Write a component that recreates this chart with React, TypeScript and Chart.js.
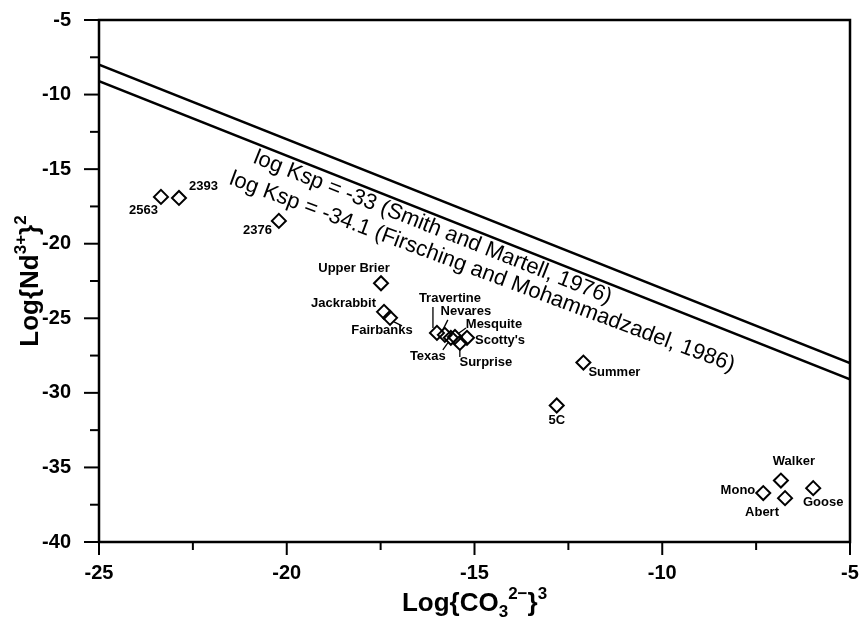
import React, { useEffect, useRef } from "react";
import { Chart, registerables } from "chart.js";

Chart.register(...registerables);

// ---- data ----
const springNames = [
  "2563", "2393", "2376", "Upper Brier", "Jackrabbit", "Fairbanks",
  "Travertine", "Nevares", "Mesquite", "Scotty's", "Texas", "Surprise",
  "Summer", "5C", "Walker", "Mono", "Abert", "Goose",
];
const logCO3cubed = [
  -23.35, -22.87, -20.21, -17.49, -17.41, -17.25,
  -16.0, -15.79, -15.52, -15.2, -15.63, -15.39,
  -12.1, -12.81, -6.84, -7.31, -6.73, -5.98,
];
const logNdSquared = [
  -16.86, -16.93, -18.47, -22.65, -24.57, -24.97,
  -25.98, -26.11, -26.25, -26.31, -26.31, -26.65,
  -27.97, -30.85, -35.88, -36.72, -37.06, -36.39,
];

const kspLineX = [-25, -5];
const kspLine1Y = [-8, -28]; // log Ksp = -33
const kspLine2Y = [-9.1, -29.1]; // log Ksp = -34.1
const kspLabels = [
  "log Ksp = -33 (Smith and Martell, 1976)",
  "log Ksp = -34.1 (Firsching and Mohammadzadel, 1986)",
];

const xTickValues = [-25, -20, -15, -10, -5];
const yTickValues = [-5, -10, -15, -20, -25, -30, -35, -40];

// ---- label layout (pixel offsets from each point; styling only) ----
type Lay = { dx: number; dy: number; align: CanvasTextAlign; leader?: number[] };
const labelLayout: Lay[] = [
  { dx: -3, dy: 14, align: "right" },
  { dx: 10, dy: -12, align: "left" },
  { dx: -7, dy: 10, align: "right" },
  { dx: -27, dy: -15, align: "center" },
  { dx: -8, dy: -8, align: "right" },
  { dx: -8, dy: 13, align: "center", leader: [12, 8, 4, 4] },
  { dx: 13, dy: -34, align: "center", leader: [-4, -26, -4, -5] },
  { dx: 21, dy: -23, align: "center", leader: [3, -15, -2, -5] },
  { dx: 39, dy: -13, align: "center", leader: [11, -9, 4, -4] },
  { dx: 8, dy: 3, align: "left" },
  { dx: -23, dy: 19, align: "center", leader: [-8, 12, -3, 5] },
  { dx: 26, dy: 20, align: "center", leader: [0, 14, 0, 6] },
  { dx: 5, dy: 10, align: "left" },
  { dx: 0, dy: 15, align: "center" },
  { dx: 13, dy: -19, align: "center" },
  { dx: -8, dy: -3, align: "right" },
  { dx: -23, dy: 14, align: "center" },
  { dx: 10, dy: 14, align: "center" },
];

// line-label placement (styling): start x in data units, vertical pixel offset below the lower line, tilt (rad)
const lineLabelStart = [-20.75, -21.4];
const lineLabelVOff = [2, 33];
const lineLabelTilt = [0, -0.021];

const FONT = "'Liberation Sans', Arial, Helvetica, sans-serif";

type Seg = { t: string; size: number; dy: number };

function drawRich(ctx: CanvasRenderingContext2D, segs: Seg[], cx: number, cy: number, rot: number) {
  ctx.save();
  ctx.translate(cx, cy);
  ctx.rotate(rot);
  let total = 0;
  for (const s of segs) {
    ctx.font = `bold ${s.size}px ${FONT}`;
    total += ctx.measureText(s.t).width;
  }
  let x = -total / 2;
  ctx.textBaseline = "middle";
  ctx.textAlign = "left";
  ctx.fillStyle = "#000";
  for (const s of segs) {
    ctx.font = `bold ${s.size}px ${FONT}`;
    ctx.fillText(s.t, x, s.dy);
    x += ctx.measureText(s.t).width;
  }
  ctx.restore();
}

const decorPlugin = {
  id: "decor",
  afterDraw(chart: any) {
    const { ctx, chartArea, scales } = chart;
    const xs = scales.x;
    const ys = scales.y;
    ctx.save();
    // frame
    ctx.strokeStyle = "#000";
    ctx.lineWidth = 2.5;
    ctx.strokeRect(chartArea.left, chartArea.top, chartArea.right - chartArea.left, chartArea.bottom - chartArea.top);
    // ticks
    ctx.lineWidth = 2;
    for (let v = -25; v <= -5; v += 2.5) {
      const px = xs.getPixelForValue(v);
      const major = v % 5 === 0;
      ctx.beginPath();
      ctx.moveTo(px, chartArea.bottom);
      ctx.lineTo(px, chartArea.bottom + (major ? 13 : 8));
      ctx.stroke();
    }
    for (let v = -40; v <= -5; v += 2.5) {
      const py = ys.getPixelForValue(v);
      const major = v % 5 === 0;
      ctx.beginPath();
      ctx.moveTo(chartArea.left, py);
      ctx.lineTo(chartArea.left - (major ? 15 : 9), py);
      ctx.stroke();
    }
    // point labels
    ctx.fillStyle = "#000";
    ctx.strokeStyle = "#000";
    ctx.lineWidth = 1.3;
    ctx.font = `bold 13px ${FONT}`;
    ctx.textBaseline = "middle";
    springNames.forEach((name, i) => {
      const px = xs.getPixelForValue(logCO3cubed[i]);
      const py = ys.getPixelForValue(logNdSquared[i]);
      const lay = labelLayout[i];
      ctx.textAlign = lay.align;
      ctx.fillText(name, px + lay.dx, py + lay.dy);
      if (lay.leader) {
        const [a, b, c, d] = lay.leader;
        ctx.beginPath();
        ctx.moveTo(px + a, py + b);
        ctx.lineTo(px + c, py + d);
        ctx.stroke();
      }
    });
    // line labels (both beneath the lower line)
    ctx.font = `22px ${FONT}`;
    ctx.textAlign = "left";
    ctx.textBaseline = "top";
    const x0 = xs.getPixelForValue(kspLineX[0]);
    const y0 = ys.getPixelForValue(kspLine2Y[0]);
    const x1 = xs.getPixelForValue(kspLineX[1]);
    const y1 = ys.getPixelForValue(kspLine2Y[1]);
    const ang = Math.atan2(y1 - y0, x1 - x0);
    kspLabels.forEach((label, i) => {
      const t = (lineLabelStart[i] - kspLineX[0]) / (kspLineX[1] - kspLineX[0]);
      const sx = x0 + (x1 - x0) * t;
      const sy = y0 + (y1 - y0) * t + lineLabelVOff[i];
      ctx.save();
      ctx.translate(sx, sy);
      ctx.rotate(ang + lineLabelTilt[i]);
      ctx.fillText(label, 0, 0);
      ctx.restore();
    });
    // axis titles
    const cxm = (chartArea.left + chartArea.right) / 2;
    drawRich(ctx, [
      { t: "Log{CO", size: 26, dy: 0 },
      { t: "3", size: 17, dy: 8 },
      { t: "2\u2212", size: 17, dy: -10 },
      { t: "}", size: 26, dy: 0 },
      { t: "3", size: 17, dy: -10 },
    ], cxm, 604, 0);
    const cym = (chartArea.top + chartArea.bottom) / 2;
    drawRich(ctx, [
      { t: "Log{Nd", size: 26, dy: 0 },
      { t: "3+", size: 17, dy: -10 },
      { t: "}", size: 26, dy: 0 },
      { t: "2", size: 17, dy: -10 },
    ], 31, cym, -Math.PI / 2);
    ctx.restore();
  },
};

export default function App() {
  const ref = useRef<HTMLCanvasElement | null>(null);
  useEffect(() => {
    if (!ref.current) return;
    const pts = logCO3cubed.map((x, i) => ({ x, y: logNdSquared[i] }));
    const chart = new Chart(ref.current, {
      type: "scatter",
      data: {
        datasets: [
          {
            type: "line",
            data: kspLineX.map((x, i) => ({ x, y: kspLine1Y[i] })),
            borderColor: "#000",
            borderWidth: 2.5,
            pointRadius: 0,
            fill: false,
          },
          {
            type: "line",
            data: kspLineX.map((x, i) => ({ x, y: kspLine2Y[i] })),
            borderColor: "#000",
            borderWidth: 2.5,
            pointRadius: 0,
            fill: false,
          },
          {
            data: pts,
            pointStyle: "rectRot",
            pointRadius: 7,
            borderColor: "#000",
            borderWidth: 2,
            backgroundColor: "rgba(0,0,0,0)",
          },
        ],
      } as any,
      options: {
        animation: false,
        responsive: false,
        devicePixelRatio: 1,
        layout: { padding: { top: 20, right: 10, left: 0, bottom: 0 } },
        plugins: { legend: { display: false }, tooltip: { enabled: false } },
        scales: {
          x: {
            type: "linear",
            min: -25,
            max: -5,
            afterBuildTicks: (s: any) => {
              s.ticks = xTickValues.map((v) => ({ value: v }));
            },
            afterFit: (s: any) => {
              s.height = 94;
              s.paddingLeft = 0;
              s.paddingRight = 0;
            },
            grid: { display: false },
            border: { display: false },
            ticks: {
              color: "#000",
              font: { family: FONT, size: 20, weight: "bold" },
              padding: 11,
              maxRotation: 0,
            },
          },
          y: {
            type: "linear",
            min: -40,
            max: -5,
            afterBuildTicks: (s: any) => {
              s.ticks = yTickValues.map((v) => ({ value: v }));
            },
            afterFit: (s: any) => {
              s.width = 99;
              s.paddingTop = 0;
              s.paddingBottom = 0;
            },
            grid: { display: false },
            border: { display: false },
            ticks: {
              color: "#000",
              font: { family: FONT, size: 20, weight: "bold" },
              padding: 20,
            },
          },
        },
      } as any,
      plugins: [decorPlugin],
    });
    return () => chart.destroy();
  }, []);
  return (
    <div style={{ position: "fixed", left: 0, top: 0, width: 860, height: 636, background: "#fff" }}>
      <canvas ref={ref} width={860} height={636} style={{ width: 860, height: 636 }} />
    </div>
  );
}
